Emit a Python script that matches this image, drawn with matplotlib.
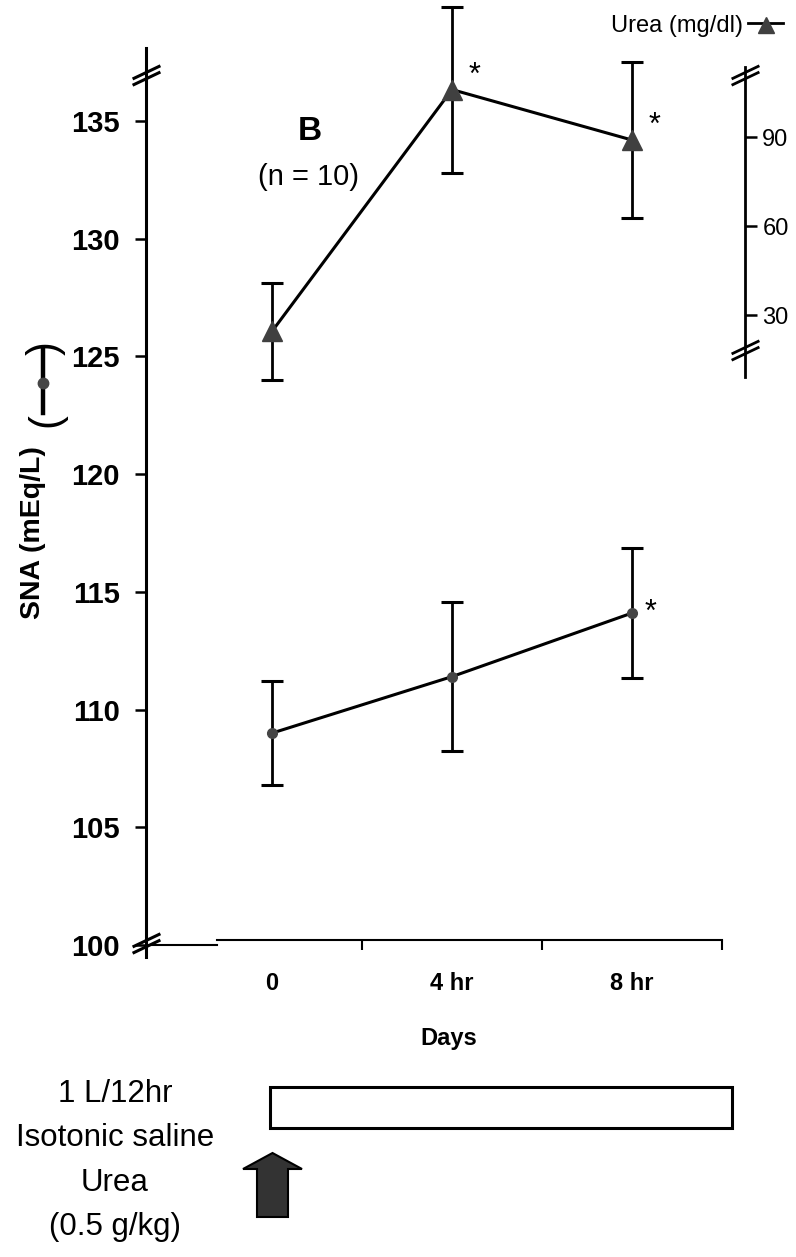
import numpy as np
import matplotlib
matplotlib.use("Agg")
import matplotlib.pyplot as plt
from matplotlib import font_manager
from matplotlib.path import Path
from matplotlib.patches import Rectangle, Polygon

# ---------------------------------------------------------
# Data
# ---------------------------------------------------------
times = ["0", "4 hr", "8 hr"]
sna_mean = [109.0, 111.4, 114.1]      # mEq/L, left axis
sna_err = [2.2, 3.15, 2.75]
urea_mean = [24.5, 106.0, 89.0]       # mg/dl, right axis
urea_err = [16.3, 28.0, 26.3]
sna_sig = [False, False, True]
urea_sig = [False, True, True]

sna_ticks = [100, 105, 110, 115, 120, 125, 130, 135]
urea_ticks = [30, 60, 90]
protocol = ["1 L/12hr", "Isotonic saline", "Urea", "(0.5 g/kg)"]

# ---------------------------------------------------------
# Fonts
# ---------------------------------------------------------
names = {f.name for f in font_manager.fontManager.ttflist}
plt.rcParams["font.family"] = "Liberation Sans"
if "Liberation Sans Narrow" in names:
    NARROW, nsize = "Liberation Sans Narrow", 26
else:
    NARROW, nsize = "Liberation Sans", 22.5

W, H = 796, 1257
fig = plt.figure(figsize=(W / 100, H / 100), dpi=100)


def fx(px):
    return px / W


def fy(py):
    return 1 - py / H


# ---------------------------------------------------------
# Main axes (SNA) and twin axes (urea)
# ---------------------------------------------------------
ax = fig.add_axes([fx(146), fy(957), (745 - 146) / W, 957 / H])
ax.set_xlim(-0.2, 3.128)
ax.set_ylim(99.49, 140.14)
xpos = np.arange(len(times)) + 0.5

for s in ["top", "right"]:
    ax.spines[s].set_visible(False)
ax.spines["left"].set_linewidth(2.2)
ax.spines["left"].set_bounds(99.49, 138.1)
ax.spines["bottom"].set_position(("data", 100.2))
ax.spines["bottom"].set_bounds(0.194, 3.0)
ax.spines["bottom"].set_linewidth(1.5)

ax.set_yticks(sna_ticks)
ax.set_yticklabels([str(t) for t in sna_ticks], fontsize=21, fontweight="bold")
ax.tick_params(axis="y", length=8, width=1.8, pad=11)

ax.set_xticks([1, 2, 3])
ax.set_xticklabels([])
ax.tick_params(axis="x", which="major", length=7, width=1.5, direction="out")
ax.set_xticks(xpos, minor=True)
ax.set_xticklabels(times, minor=True, fontsize=17, fontweight="bold")
ax.tick_params(axis="x", which="minor", length=0, pad=23)

# short segment at 100 left of the x-axis start
ax.plot([-0.2, 0.194], [100, 100], color="k", lw=1.5, clip_on=False)

ax.errorbar(xpos, sna_mean, yerr=sna_err, color="k", lw=2.2, elinewidth=2,
            capsize=8, capthick=2.2, marker="o", ms=7, mfc="#454545",
            mec="#454545", clip_on=False, zorder=3)
for x, y, e, s in zip(xpos, sna_mean, sna_err, sna_sig):
    if s:
        ax.annotate("*", (x, y), xytext=(13, 0), textcoords="offset points",
                    fontsize=22, ha="center", va="center")

ax2 = ax.twinx()
ax2.set_ylim(-186.4, 136.2)
for s in ["top", "left", "bottom"]:
    ax2.spines[s].set_visible(False)
ax2.spines["right"].set_bounds(9.1, 113.6)
ax2.spines["right"].set_linewidth(2.0)
ax2.set_yticks(urea_ticks)
ax2.set_yticklabels([str(t) for t in urea_ticks], fontsize=17)
ax2.tick_params(axis="y", length=8.5, width=1.8, pad=4)

ax2.errorbar(xpos, urea_mean, yerr=urea_err, color="k", lw=2.2, elinewidth=2,
             capsize=8, capthick=2.2, marker="^", ms=14, mfc="#404040",
             mec="#404040", clip_on=False, zorder=3)
for x, y, e, s in zip(xpos, urea_mean, urea_err, urea_sig):
    if s:
        ax2.annotate("*", (x, y), xytext=(16, 10), textcoords="offset points",
                     fontsize=22, ha="center", va="center")

# axis break marks
brk = Path([(-1, -0.7), (1, 0.25), (-1, -0.25), (1, 0.7)],
           [Path.MOVETO, Path.LINETO, Path.MOVETO, Path.LINETO])
ax.plot([-0.2, -0.2], [136.96, 100.1], ls="none", marker=brk, ms=20,
        mec="k", mew=2.2, clip_on=False, zorder=5)
ax2.plot([3.128, 3.128], [110.9, 18.2], ls="none", marker=brk, ms=20,
         mec="k", mew=2.0, clip_on=False, zorder=5)

# ---------------------------------------------------------
# Overlay in pixel coordinates for labels and the protocol
# ---------------------------------------------------------
ov = fig.add_axes([0, 0, 1, 1])
ov.set_xlim(0, W)
ov.set_ylim(H, 0)
ov.axis("off")
ov.patch.set_alpha(0)

ov.text(310, 132, "B", fontsize=24, fontweight="bold", ha="center", va="center")
ov.text(308, 177, "(n = 10)", fontsize=21, ha="center", va="center")

# legend for urea
ov.text(743, 26, "Urea (mg/dl)", fontsize=17, ha="right", va="center")
ov.plot([748, 783], [23, 23], color="k", lw=2)
ov.plot([766], [25], marker="^", ms=12, color="#404040")

# y label with symbol
ov.text(33, 533, "SNA (mEq/L)", rotation=90, fontsize=20.5, fontweight="bold",
        ha="center", va="center")
ov.plot([43, 43], [349, 413], color="k", lw=3.2)
ov.plot([43], [383], marker="o", ms=7.5, color="#454545")
ov.text(46, 348, ")", rotation=90, fontsize=30, ha="center", va="center")
ov.text(46, 420, "(", rotation=90, fontsize=30, ha="center", va="center")

ov.text(449, 1038, "Days", fontsize=17, fontweight="bold", ha="center", va="center")

# protocol
for i, line in enumerate(protocol):
    ov.text(115, 1102 + 44.5 * i, line, family=NARROW, fontsize=nsize,
            ha="center", va="baseline")
ov.add_patch(Rectangle((270, 1087), 462, 41, fc="white", ec="k", lw=2.2))
ov.add_patch(Polygon([(257, 1217), (257, 1169), (243, 1169), (272.5, 1153),
                      (302, 1169), (288, 1169), (288, 1217)],
                     closed=True, fc="#333333", ec="k", lw=1.5))

fig.savefig("out.png", dpi=100)
